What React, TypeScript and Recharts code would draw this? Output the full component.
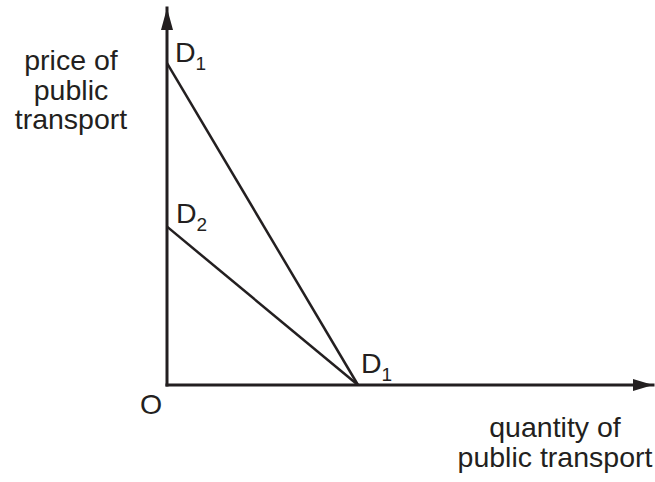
import { LineChart, Line, XAxis, YAxis, ReferenceDot, ReferenceLine, Customized } from 'recharts'

// demand curves, quantity (q) vs price (p), both on a 0-100 scale
const d1Points = [
  { q: 0, p: 85.4 },
  { q: 39.3, p: 0 },
]
const d2Points = [
  { q: 0, p: 42 },
  { q: 39.3, p: 0 },
]
const qDomain = [0, 100]
const pDomain = [0, 100]

const yTitle = ['price of', 'public', 'transport']
const xTitle = ['quantity of', 'public transport']

const INK = '#231f20'
const FONT = '"Liberation Sans", Arial, Helvetica, sans-serif'
const SIZE = 28.5

function subLabel(main: string, sub: string, dx: number, dy: number) {
  return (props: any) => {
    const { cx, cy } = props
    return (
      <text x={cx + dx} y={cy + dy} fill={INK} fontFamily={FONT} fontSize={SIZE}>
        {main}
        <tspan fontSize={19} dy={8}>
          {sub}
        </tspan>
      </text>
    )
  }
}

function originLabel(props: any) {
  const { cx, cy } = props
  return (
    <text x={cx - 16} y={cy + 29} textAnchor="middle" fill={INK} fontFamily={FONT} fontSize={SIZE}>
      O
    </text>
  )
}

function arrowUp(props: any) {
  const { cx, cy } = props
  return <path d={`M${cx},${cy} L${cx - 6},${cy + 22} L${cx + 6},${cy + 22} Z`} fill={INK} />
}

function arrowRight(props: any) {
  const { cx, cy } = props
  return <path d={`M${cx},${cy} L${cx - 20},${cy - 6} L${cx - 20},${cy + 6} Z`} fill={INK} />
}

function Titles() {
  return (
    <g fill={INK} fontFamily={FONT} fontSize={SIZE}>
      {yTitle.map((t, i) => (
        <text key={t} x={71} y={70 + i * 29.5} textAnchor="middle">
          {t}
        </text>
      ))}
      {xTitle.map((t, i) => (
        <text key={t} x={555} y={437 + i * 29.5} textAnchor="middle">
          {t}
        </text>
      ))}
    </g>
  )
}

export default function App() {
  return (
    <div style={{ position: 'absolute', left: 0, top: 0, width: 655, height: 482, background: '#fff' }}>
      <LineChart width={655} height={482} margin={{ top: 8, right: 2, left: 167, bottom: 97 }}>
        <XAxis dataKey="q" type="number" domain={qDomain} hide />
        <YAxis type="number" domain={pDomain} hide />
        <ReferenceLine
          segment={[{ x: 0, y: 0 }, { x: 100, y: 0 }]}
          stroke={INK}
          strokeWidth={3}
          strokeLinecap="square"
          ifOverflow="visible"
        />
        <ReferenceLine
          segment={[{ x: 0, y: 0 }, { x: 0, y: 100 }]}
          stroke={INK}
          strokeWidth={3}
          strokeLinecap="square"
          ifOverflow="visible"
        />
        <Line
          data={d1Points}
          dataKey="p"
          stroke={INK}
          strokeWidth={2.5}
          dot={false}
          activeDot={false}
          isAnimationActive={false}
        />
        <Line
          data={d2Points}
          dataKey="p"
          stroke={INK}
          strokeWidth={2.5}
          dot={false}
          activeDot={false}
          isAnimationActive={false}
        />
        <ReferenceDot x={0} y={100} r={0} ifOverflow="visible" shape={arrowUp} />
        <ReferenceDot x={100} y={0} r={0} ifOverflow="visible" shape={arrowRight} />
        <ReferenceDot x={0} y={85.4} r={0} ifOverflow="visible" shape={subLabel('D', '1', 8, -1)} />
        <ReferenceDot x={0} y={42} r={0} ifOverflow="visible" shape={subLabel('D', '2', 9, -4)} />
        <ReferenceDot x={39.3} y={0} r={0} ifOverflow="visible" shape={subLabel('D', '1', 3, -12)} />
        <ReferenceDot x={0} y={0} r={0} ifOverflow="visible" shape={originLabel} />
        <Customized component={Titles} />
      </LineChart>
    </div>
  )
}
